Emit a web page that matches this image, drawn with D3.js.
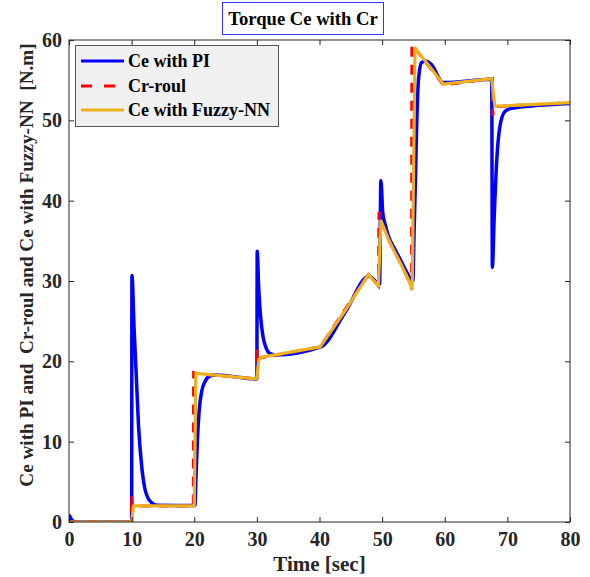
<!DOCTYPE html>
<html>
<head>
<meta charset="utf-8">
<script src="https://cdn.jsdelivr.net/npm/d3@7"></script>
<style>
  body { margin: 0; background: #fff; }
  svg text { font-family: "Liberation Serif", "Times New Roman", serif; font-weight: bold; fill: #262626; }
</style>
</head>
<body>
<script>
// Ce with PI (blue)
var tPI  = [0,0.3,0.7,1,10,10.05,10.4,10.7,11.1,11.6,12.1,12.6,13.2,14,20.1,20.3,20.5,20.8,21.2,21.8,22.6,23.5,30,30.05,30.3,30.6,31,31.5,32,33,40.2,44.1,47.9,49.6,49.8,50.1,50.5,51,52,53,54,54.9,55.1,55.3,55.5,55.8,56.3,57,57.8,59.8,67.5,67.6,67.9,68.3,68.8,69.6,70.7,80];
var cePI = [0.9,0.4,0.1,0,0,30.7,24,19,12,7,4.2,3,2.4,2.1,2.05,6,10,14,16.3,17.6,18.2,18.3,17.8,33.7,29,25.5,23,21.6,21,20.8,21.8,26.1,30.6,29.6,42.5,38.5,37,35.6,34,32.5,31,30,36,42,48.8,55,57.2,57.4,57,54.7,55.1,31.7,38,45,49.2,51.1,51.5,52.1];

// Cr-roul (red dashed)
var tRoul  = [0,10,10.02,10.1,19.85,19.9,20.3,30,30.02,30.1,30.5,40.1,47.8,49.4,49.5,49.8,51,52,53,54,54.7,54.75,55.2,59.8,67.6,67.65,67.9,80];
var crRoul = [0,0,3.3,2,2,18.6,18.5,17.8,21.5,20.2,20.4,21.8,30.8,29.4,38.6,37.6,35.2,33.6,32.1,30.5,29,59.5,59,54.4,55.2,50.6,51.7,52.2];

// Ce with Fuzzy-NN (yellow)
var tFuzzy  = [0,10,10.3,20,20.25,30,30.3,30.6,40.1,44,47.8,49.4,49.8,51,52,53,54,54.8,55.25,59.8,67.5,68,80];
var ceFuzzy = [0,0,2,2,18.5,17.8,20.2,20.5,21.8,26.2,30.8,29.4,37.5,35.2,33.6,32.1,30.5,29,59,54.5,55.2,51.75,52.2];

var xTicks = [0,10,20,30,40,50,60,70,80];
var yTicks = [0,10,20,30,40,50,60];
var seriesNames = ["Ce with PI", "Cr-roul", "Ce with Fuzzy-NN"];

var width = 590, height = 577;
var pLeft = 69, pRight = 570, pTop = 40, pBottom = 522;

var svg = d3.select("body").append("svg")
    .attr("width", width)
    .attr("height", height);

var x = d3.scaleLinear().domain([0, 80]).range([pLeft, pRight]);
var y = d3.scaleLinear().domain([0, 60]).range([pBottom, pTop]);

// clip to the axes box
svg.append("clipPath").attr("id", "plotclip")
  .append("rect")
    .attr("x", pLeft).attr("y", pTop)
    .attr("width", pRight - pLeft).attr("height", pBottom - pTop);

function zip(ts, vs) {
    return ts.map(function(t, i) { return [t, vs[i]]; });
}

var line = d3.line()
    .x(function(d) { return x(d[0]); })
    .y(function(d) { return y(d[1]); });

// smoother line for the PI transients
var smoothLine = d3.line()
    .curve(d3.curveMonotoneX)
    .x(function(d) { return x(d[0]); })
    .y(function(d) { return y(d[1]); });

var plot = svg.append("g").attr("clip-path", "url(#plotclip)");

plot.append("path")
    .datum(zip(tPI, cePI))
    .attr("d", smoothLine)
    .attr("fill", "none")
    .attr("stroke", "#0000ff")
    .attr("stroke-width", 3.5)
    .attr("stroke-linejoin", "round");

plot.append("path")
    .datum(zip(tRoul, crRoul))
    .attr("d", line)
    .attr("fill", "none")
    .attr("stroke", "#ff0000")
    .attr("stroke-width", 3)
    .attr("stroke-dasharray", "10,8");

plot.append("path")
    .datum(zip(tFuzzy, ceFuzzy))
    .attr("d", line)
    .attr("fill", "none")
    .attr("stroke", "#EDB120")
    .attr("stroke-width", 3.2)
    .attr("stroke-linejoin", "round");

// axes (MATLAB style: ticks inside, on all four sides)
var axisColor = "#262626";
function styleAxis(g) {
    g.select(".domain").remove();
    g.selectAll(".tick line").attr("stroke", axisColor);
    g.selectAll(".tick text").attr("font-size", 20).style("fill", axisColor);
}

svg.append("g")
    .attr("transform", "translate(0," + pBottom + ")")
    .call(d3.axisBottom(x).tickValues(xTicks).tickSize(-5).tickPadding(10).tickFormat(d3.format("d")))
    .call(styleAxis);
svg.append("g")
    .attr("transform", "translate(0," + pTop + ")")
    .call(d3.axisTop(x).tickValues(xTicks).tickSize(-5).tickFormat(""))
    .call(styleAxis);
svg.append("g")
    .attr("transform", "translate(" + pLeft + ",0)")
    .call(d3.axisLeft(y).tickValues(yTicks).tickSize(-5).tickPadding(7).tickFormat(d3.format("d")))
    .call(styleAxis);
svg.append("g")
    .attr("transform", "translate(" + pRight + ",0)")
    .call(d3.axisRight(y).tickValues(yTicks).tickSize(-5).tickFormat(""))
    .call(styleAxis);

svg.append("rect")
    .attr("x", pLeft).attr("y", pTop)
    .attr("width", pRight - pLeft).attr("height", pBottom - pTop)
    .attr("fill", "none")
    .attr("stroke", axisColor)
    .attr("stroke-width", 1);

// axis labels
svg.append("text")
    .attr("x", (pLeft + pRight) / 2)
    .attr("y", 571)
    .attr("text-anchor", "middle")
    .attr("font-size", 21)
    .text("Time [sec]");

svg.append("text")
    .attr("transform", "translate(33,265) rotate(-90)")
    .attr("text-anchor", "middle")
    .attr("font-size", 19.2)
    .style("white-space", "pre")
    .attr("xml:space", "preserve")
    .text("Ce with PI and  Cr-roul and Ce with Fuzzy-NN  [N.m]");

// title in a blue box
svg.append("rect")
    .attr("x", 222.5).attr("y", 2.5)
    .attr("width", 161).attr("height", 32)
    .attr("fill", "#fff")
    .attr("stroke", "#3333ff")
    .attr("stroke-width", 1);
svg.append("text")
    .attr("x", 303)
    .attr("y", 25)
    .attr("text-anchor", "middle")
    .attr("font-size", 18.6)
    .style("fill", "#000")
    .text("Torque Ce with Cr");

// legend
var legend = svg.append("g");
legend.append("rect")
    .attr("x", 75.5).attr("y", 45.5)
    .attr("width", 203).attr("height", 81)
    .attr("fill", "#f0f0f0")
    .attr("stroke", "#555")
    .attr("stroke-width", 1);

var legendColors = ["#0000ff", "#ff0000", "#EDB120"];
var legendDash = [null, "11,12", null];
var rowY = [61, 86, 110];

seriesNames.forEach(function(name, i) {
    legend.append("line")
        .attr("x1", 81).attr("x2", 124)
        .attr("y1", rowY[i]).attr("y2", rowY[i])
        .attr("stroke", legendColors[i])
        .attr("stroke-width", 3.2)
        .attr("stroke-dasharray", legendDash[i]);
    legend.append("text")
        .attr("x", 128)
        .attr("y", rowY[i] + 6)
        .attr("font-size", 18)
        .style("fill", "#000")
        .text(name);
});
</script>
</body>
</html>
